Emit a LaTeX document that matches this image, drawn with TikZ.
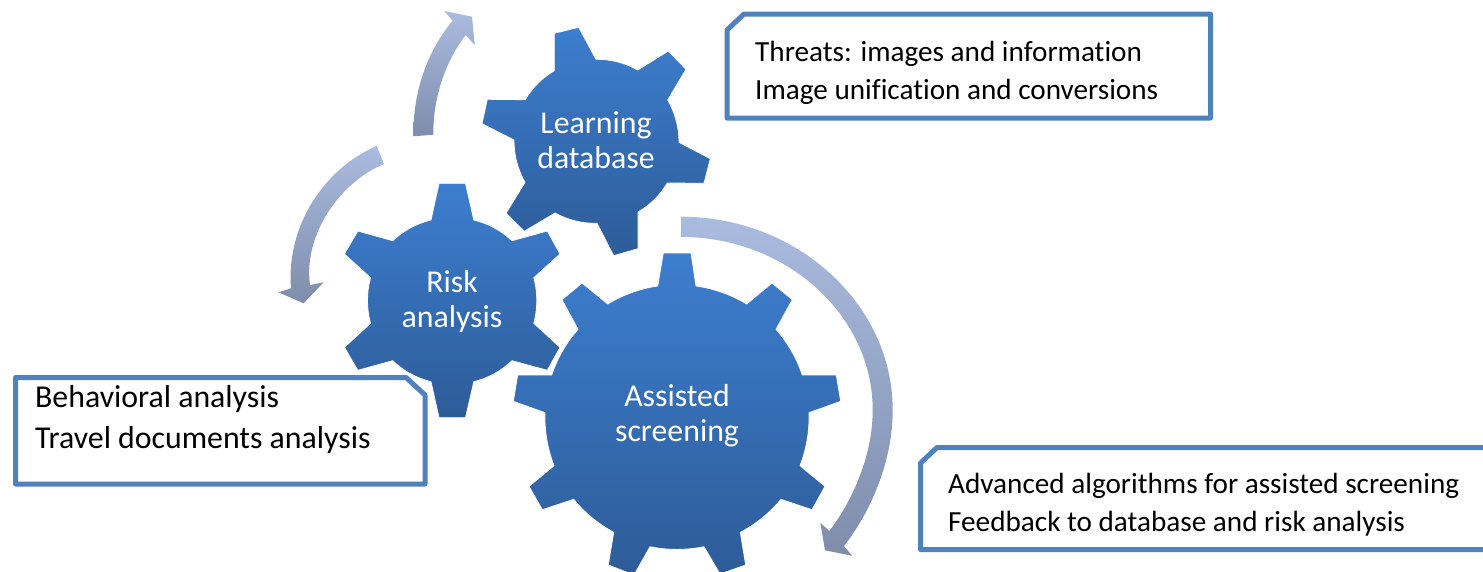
\documentclass[tikz,border=0pt]{standalone}
\usepackage{fontspec}
\setmainfont[Ligatures=NoCommon]{Carlito}
\definecolor{gearTop}{HTML}{3D7ECF}
\definecolor{gearBot}{HTML}{2D5C98}
\definecolor{arrowTop}{HTML}{A9BBDF}
\definecolor{arrowBot}{HTML}{7F8DAB}
\definecolor{boxLine}{HTML}{4F81BD}
\tikzset{
  gear/.style={top color=gearTop,bottom color=gearBot,draw=white,line width=0.8pt,line join=miter},
  sweep/.style={top color=arrowTop,bottom color=arrowBot,draw=none},
  rimA/.style={bend left=15,looseness=.87},
  rimB/.style={bend left=11.5,looseness=.86},
  notebox/.style={draw=boxLine,fill=white,line width=5pt,line join=round},
  gearlabel/.style={text=white,align=center,font=\fontsize{31.8}{35}\selectfont,inner sep=0pt},
  notetext/.style={text=black,align=left,anchor=west,font=\fontsize{29.2}{38}\selectfont,inner sep=0pt},
  notetextbig/.style={notetext,font=\fontsize{31.8}{41}\selectfont}
}
\begin{document}
\begin{tikzpicture}[x=1pt,y=-1pt]
\useasboundingbox (0,0) rectangle (1483,571);
\clip (0,0) rectangle (1483,571);

% sweeping arrows
\path[sweep] (413.3,136.3) .. controls (413,90) and (428,50) .. (452.7,20.7)
  -- (444.3,11) -- (472,16.7) -- (474.7,45) -- (465.7,35)
  .. controls (445,62) and (433,98) .. (433.3,134.7) -- cycle;
\path[sweep] (376.7,146) .. controls (325,168) and (286,225) .. (291,288.3)
  -- (278.5,292.3) -- (303.6,303.3) -- (323.6,282.3) -- (310,285)
  .. controls (303,235) and (340,182) .. (384,164) -- cycle;
\path[sweep] (681,216.7) .. controls (797,216.7) and (892.7,304) .. (892.7,410)
  .. controls (892.7,460) and (872,510) .. (844,546)
  -- (852,555.7) -- (825,550.3) -- (820.3,522.7) -- (829.3,531)
  .. controls (853,500) and (872.7,455) .. (872.7,410)
  .. controls (872.7,315) and (786,237) .. (681.7,237) -- cycle;

% gears
\path[gear] (554.3,33.3) -- (578.7,27.3) -- (596,59.3) to[rimA] (637.7,70)
  -- (668.3,51) -- (686,69.3) -- (667.7,100) to[rimA] (679,142.3)
  -- (710.3,158.7) -- (704,183.3) -- (667.3,183) to[rimA] (638,212)
  -- (638,248.7) -- (613.7,255.7) -- (597,223.3) to[rimA] (555,213)
  -- (524.3,231.3) -- (506,213.3) -- (525,182.3) to[rimA] (514,140)
  -- (482,123.7) -- (487.3,99.3) -- (525.3,99.7) to[rimA] (554.3,70.7) -- cycle;
\path[gear] (439,183.3) -- (465.5,183.3) -- (473.8,220) to[rimA] (512,240.7)
  -- (547.3,231) -- (560,254) -- (533.8,277.7) to[rimA] (533.8,323.3)
  -- (560,347.3) -- (547.3,370.3) -- (512,360.7) to[rimA] (473.8,381.7)
  -- (465.5,417.7) -- (439,417.7) -- (431,381.7) to[rimA] (392.7,360.7)
  -- (357.8,370.3) -- (344.4,347.3) -- (370.5,323.3) to[rimA] (370.5,277.7)
  -- (344.4,254) -- (357.8,231) -- (392.7,240.7) to[rimA] (431,220) -- cycle;
\path[gear] (663.3,253) -- (691,253) -- (696,286) to[rimB] (746.7,304)
  -- (772,283) -- (792.3,299.7) -- (776,329.3) to[rimB] (802.3,375)
  -- (836.3,375) -- (840.7,401.3) -- (809,412.7) to[rimB] (800,465.7)
  -- (825,486.3) -- (812,509.7) -- (781,499.3) to[rimB] (740.3,532.3)
  -- (745.7,565) -- (720,574) -- (704,546.7) to[rimB] (650,546.7)
  -- (634,575) -- (608.3,565) -- (613.7,532.3) to[rimB] (573.7,499.3)
  -- (542.3,509.7) -- (529,486.3) -- (554,465.7) to[rimB] (545,412.7)
  -- (513.3,401.3) -- (517.7,375) -- (551.7,375) to[rimB] (578,329.3)
  -- (562,299.7) -- (582,283) -- (607.7,304) to[rimB] (657.7,286) -- cycle;

% note boxes
\path[notebox] (727,30) -- (744,14) -- (1210.5,14) -- (1210.5,118) -- (727,118) -- cycle;
\path[notebox] (15.5,377.5) -- (406,377.5) -- (425,395) -- (425,484) -- (15.5,484) -- cycle;
\path[notebox] (920.5,463) -- (937,447.5) -- (1495,447.5) -- (1495,549.5) -- (920.5,549.5) -- cycle;

% labels
\node[gearlabel] (learn) at (596,140.5) {Learning\\database};
\node[gearlabel] (risk) at (452,301.5) {Risk\\analysis};
\node[gearlabel] (assist) at (677,415.5) {Assisted\\screening};
\node[notetext] (threats) at (755,73) {Threats: images and information\\Image unification and conversions};
\node[notetextbig] (behav) at (35,420) {Behavioral analysis\\Travel documents analysis};
\node[notetext] (algo) at (948,505) {Advanced algorithms for assisted screening\\Feedback to database and risk analysis};
\end{tikzpicture}
\end{document}
